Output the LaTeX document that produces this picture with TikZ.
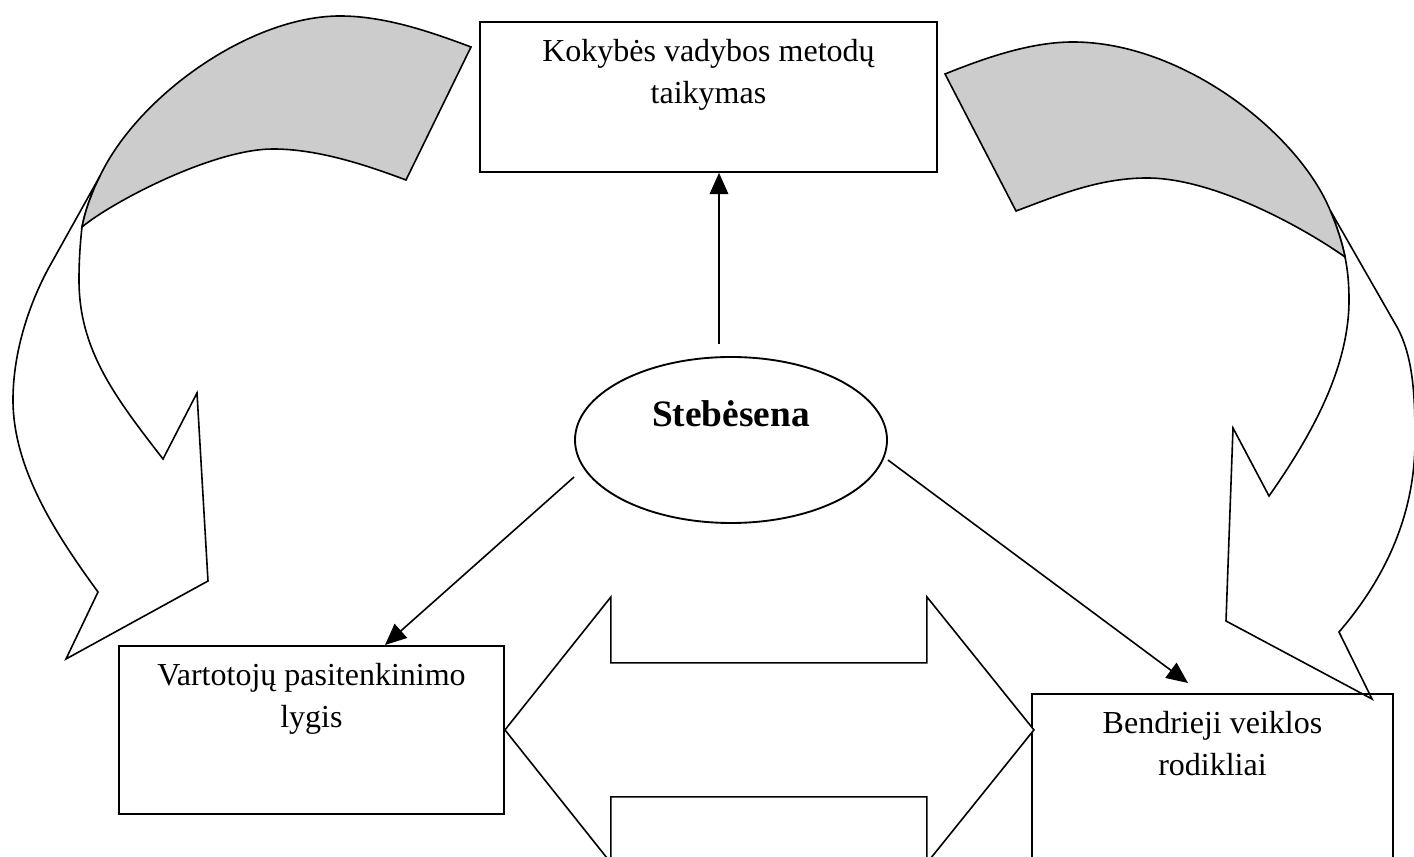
\documentclass[tikz,border=0pt]{standalone}
\usepackage{fontspec}
\setmainfont{Liberation Serif}
\usetikzlibrary{arrows.meta, positioning, shapes.geometric, calc}
\definecolor{bandgray}{gray}{0.8}
\tikzset{
    box/.style={rectangle, draw, line width=0.7pt, inner sep=0pt, align=flush center, text height=15pt, font=\fontsize{12pt}{15.5pt}\selectfont},
    oval/.style={ellipse, draw, line width=0.7pt, inner sep=0pt, minimum width=117pt, minimum height=62.25pt, text height=10pt, text depth=19.75pt, font=\fontsize{14pt}{16pt}\selectfont\bfseries},
    line/.style={draw, -{Triangle[length=8pt, width=7pt]}, line width=0.6pt},
    band/.style={draw, line width=0.6pt, line join=miter}
}

\begin{document}
\begin{tikzpicture}[x=0.375pt, y=-0.375pt]
    \useasboundingbox (0,0) rectangle (1414,857);
    \clip (0,0) rectangle (1414,857);

    % Curved arrow, left
    \filldraw [band, fill=white] (100,176) -- (52,262)
        .. controls (30.5,299.5) and (13,350) .. (13,400)
        .. controls (13,470) and (58,537) .. (98,592)
        -- (66,659) -- (208,581) -- (197,393) -- (163,459)
        .. controls (115,397) and (79,350) .. (79,280)
        .. controls (79,262) and (80,245) .. (82,227)
        .. controls (85.6,209) and (92,192) .. (100,176) -- cycle;
    \filldraw [band, fill=bandgray] (471,47)
        .. controls (431,32) and (385,16) .. (340,16)
        .. controls (250,16) and (138,96) .. (100,176)
        .. controls (92,192) and (85.6,209) .. (82,227)
        .. controls (112,202) and (213,149) .. (273,149)
        .. controls (318,149) and (366,165) .. (406,180) -- cycle;

    % Curved arrow, right
    \filldraw [band, fill=white] (1330,210) -- (1397,327)
        .. controls (1414,358) and (1415,400) .. (1415,440)
        .. controls (1415,510) and (1389,574) .. (1339,632)
        -- (1372,699) -- (1226,621) -- (1233,428) -- (1269,496)
        .. controls (1309,439) and (1349,370) .. (1349,300)
        .. controls (1349,285) and (1348,271.7) .. (1345,257)
        .. controls (1341.6,240.3) and (1336.5,225.6) .. (1330,210) -- cycle;
    \filldraw [band, fill=bandgray] (945,74)
        .. controls (980,60) and (1028,42) .. (1073,42)
        .. controls (1183,42) and (1298,133) .. (1330,210)
        .. controls (1336.5,225.6) and (1341.6,240.3) .. (1345,257)
        .. controls (1310,232) and (1217,178) .. (1147,178)
        .. controls (1097,178) and (1054,197) .. (1016,211) -- cycle;

    % Nodes
    \node [box, anchor=north west, text width=171.4pt, text depth=41.25pt] (qm) at (479,21) {Kokybės vadybos metodų\\taikymas};
    \node [oval] (st) at (731,440) {Stebėsena};
    \node [box, anchor=north west, text width=144.4pt, text depth=48pt] (lv) at (118,645) {Vartotojų pasitenkinimo\\lygis};
    \node [box, anchor=north west, text width=135.4pt, text depth=55.5pt] (bv) at (1031,693) {Bendrieji veiklos\\rodikliai};

    % Paths
    \coordinate (s1) at ([shift={(-12,-12)}]st.north);
    \path [line] (s1) -- (s1 |- qm.south);
    \path [line] ([shift={(0,37)}]st.west) -- ([shift={(267,0)}]lv.north west);
    \path [line] ([shift={(0,20)}]st.east) -- ([shift={(157,-10)}]bv.north west);

    % Double arrow between the boxes
    \filldraw [band, fill=white] (lv.east) -- ++(106,-133) -- ++(0,66) -- ++(316,0) -- ++(0,-66)
        -- ++(107,133) -- ++(-107,133) -- ++(0,-66) -- ++(-316,0) -- ++(0,66) -- cycle;
\end{tikzpicture}
\end{document}
